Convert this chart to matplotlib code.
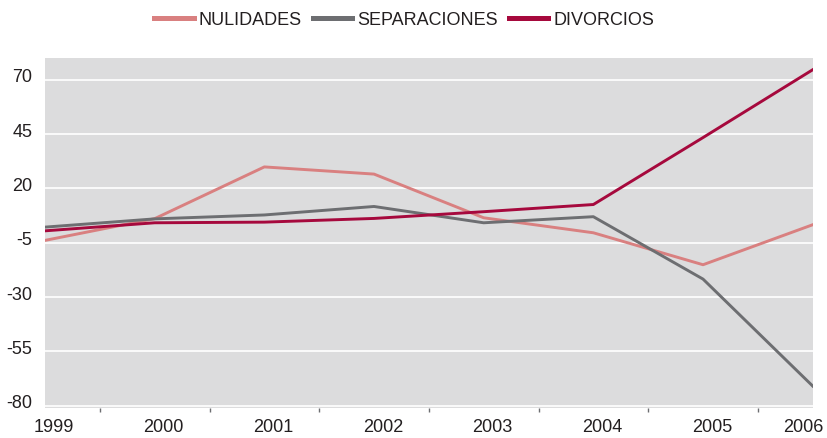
import matplotlib.pyplot as plt
import matplotlib.transforms as mtransforms

years = [1999, 2000, 2001, 2002, 2003, 2004, 2005, 2006]
nulidades = [-3.9, 6.1, 29.9, 26.6, 6.5, -0.4, -15.1, 3.3]
separaciones = [2.2, 6.0, 7.8, 11.7, 4.2, 7.0, -21.7, -70.9]
divorcios = [0.5, 4.2, 4.5, 6.2, 9.3, 12.6, 43.4, 74.6]
y_ticks = [70, 45, 20, -5, -30, -55, -80]

plt.rcParams['font.family'] = ['Liberation Sans', 'DejaVu Sans']
text_color = '#231f20'

fig = plt.figure(figsize=(8.27, 4.38), dpi=100)
ax = fig.add_axes([45 / 827, 30 / 438, 767.7 / 827, 350 / 438])
ax.set_facecolor('#dcdcdd')
for s in ax.spines.values():
    s.set_visible(False)

ax.plot(years, nulidades, color='#d98080', lw=2.1, label='NULIDADES', zorder=3)
ax.plot(years, separaciones, color='#6d6e71', lw=2.1, label='SEPARACIONES', zorder=3)
ax.plot(years, divorcios, color='#a6093d', lw=2.1, label='DIVORCIOS', zorder=4)

ax.set_xlim(1999, 2006)
ax.set_ylim(-81, 80)
ax.set_yticks(y_ticks)
ax.set_yticklabels([str(v) for v in y_ticks])
ax.grid(axis='y', color='white', lw=1.2, zorder=1)
ax.set_axisbelow(True)

ax.set_xticks(years)
ax.set_xticklabels([str(y) for y in years])
ax.set_xticks([y + 0.5 for y in years[:-1]], minor=True)
ax.tick_params(axis='x', which='major', length=0, pad=8, labelsize=13, labelcolor=text_color)
ax.tick_params(axis='x', which='minor', length=3, width=1, color='#6d6e71', direction='out')
ax.tick_params(axis='y', length=0, pad=9, labelsize=13, labelcolor=text_color)

# shift tick labels like the original layout
for i, lab in enumerate(ax.get_xticklabels()):
    dx = 9 / 100 if i < len(years) - 1 else -9 / 100
    lab.set_transform(lab.get_transform() + mtransforms.ScaledTranslation(dx, 0, fig.dpi_scale_trans))
for lab in ax.get_yticklabels():
    lab.set_transform(lab.get_transform() + mtransforms.ScaledTranslation(0, 4 / 100, fig.dpi_scale_trans))

leg = fig.legend(loc='center', bbox_to_anchor=(0.489, 0.954), ncol=3, frameon=False,
                 fontsize=13, handlelength=2.17, handletextpad=0.3, columnspacing=0.6)
for line in leg.get_lines():
    line.set_linewidth(3.6)
for t in leg.get_texts():
    t.set_color(text_color)

fig.savefig('out.png', dpi=100)
